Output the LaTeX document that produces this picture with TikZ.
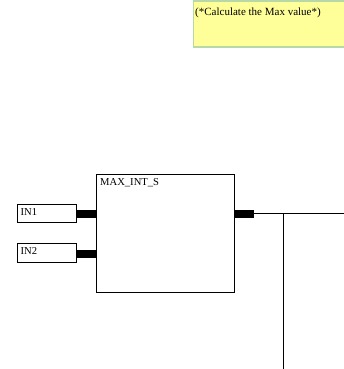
\documentclass[tikz,border=0pt]{standalone}
\usepackage{fontspec}
\setmainfont{Liberation Serif}
\definecolor{notefill}{HTML}{FFFF99}
\definecolor{noteedge}{HTML}{B8D8A8}
\begin{document}
\begin{tikzpicture}[x=1pt,y=-1pt,
  note/.style={draw=noteedge,line width=1.5pt,fill=notefill},
  fbbox/.style={draw=black,line width=0.8pt,fill=white},
  varbox/.style={draw=black,line width=0.8pt,fill=white},
  lbl/.style={inner sep=0pt,anchor=north west,font=\fontsize{10.6}{12}\selectfont},
  stub/.style={line width=8pt},
  wire/.style={line width=0.8pt}]
\useasboundingbox (0,0) rectangle (344,369);
% comment box
\draw[note] (193.5,1) rectangle (350,47);
\node[lbl,font=\fontsize{11}{12}\selectfont] (cmt) at (195,8) {(*Calculate the Max value*)};
% function block
\draw[fbbox] (96.5,174.5) rectangle (234,292);
\coordinate (blkL1) at (96.5,214);
\coordinate (blkL2) at (96.5,253.5);
\coordinate (blkR) at (234,213.5);
\node[lbl] (title) at (100,178.5) {MAX\_INT\_S};
% inputs
\draw[varbox] (17.5,204) rectangle (76.5,222.5);
\node[lbl] (in1) at (20.5,208) {IN1};
\coordinate (in1r) at (76.5,214);
\draw[varbox] (17.5,243.5) rectangle (76.5,262.5);
\node[lbl] (in2) at (20.5,247.5) {IN2};
\coordinate (in2r) at (76.5,253.5);
\draw[stub] (in1r) -- (blkL1);
\draw[stub] (in2r) -- (blkL2);
% output
\coordinate (outE) at (254,213.5);
\coordinate (farR) at (345,213.5);
\coordinate (junc) at (283,213.5);
\coordinate (down) at (283,370);
\draw[stub] (blkR) -- (outE);
\draw[wire] (outE) -- (farR);
\draw[wire] (junc) -- (down);
\end{tikzpicture}
\end{document}
